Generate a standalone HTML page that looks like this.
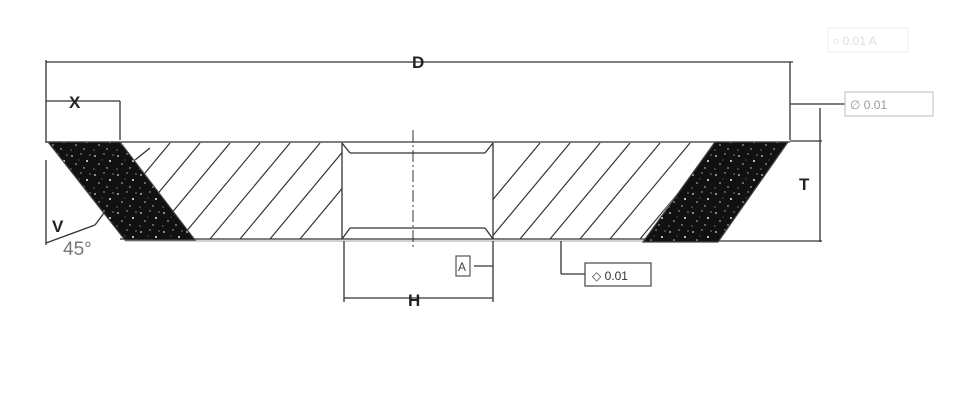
<!DOCTYPE html>
<html><head><meta charset="utf-8"><style>
html,body{margin:0;padding:0;background:#fff;}
svg{display:block;font-family:"Liberation Sans",sans-serif;}
</style></head><body>
<svg width="955" height="400" viewBox="0 0 955 400" xmlns="http://www.w3.org/2000/svg">
<defs>
<pattern id="sp" width="23" height="19" patternUnits="userSpaceOnUse">
<rect width="23" height="19" fill="#111"/>
<circle cx="3" cy="4" r="0.9" fill="#ddd"/><circle cx="12" cy="2" r="0.7" fill="#bbb"/>
<circle cx="18" cy="9" r="1" fill="#eee"/><circle cx="7" cy="12" r="0.8" fill="#ccc"/>
<circle cx="15" cy="16" r="0.7" fill="#ddd"/><circle cx="2" cy="17" r="0.6" fill="#aaa"/>
<circle cx="21" cy="3" r="0.6" fill="#ccc"/><circle cx="10" cy="8" r="0.5" fill="#999"/>
</pattern>
<clipPath id="hl"><polygon points="120,143 342,143 342,239 195,239"/></clipPath>
<clipPath id="hr"><polygon points="493,143 715,143 643,239 493,239"/></clipPath>
</defs>
<g stroke="#333" stroke-width="1.3" fill="none">
<!-- D dimension -->
<line x1="46" y1="62" x2="793" y2="62"/>
<line x1="46" y1="60" x2="46" y2="143"/>
<line x1="790" y1="62" x2="790" y2="140"/>
<!-- X dim -->
<line x1="46" y1="101" x2="120" y2="101"/>
<line x1="120" y1="101" x2="120" y2="140"/>
<!-- outline -->
<line x1="46" y1="142" x2="790" y2="142"/>
<line x1="120" y1="239" x2="720" y2="239"/>
<line x1="125" y1="241" x2="720" y2="241" stroke="#888" stroke-width="0.8"/>
<!-- bore -->
<line x1="342" y1="143" x2="342" y2="239"/>
<line x1="493" y1="143" x2="493" y2="239"/>
<line x1="350" y1="153" x2="485" y2="153"/>
<line x1="350" y1="228" x2="485" y2="228"/>
<line x1="342" y1="143" x2="350" y2="153"/><line x1="493" y1="143" x2="485" y2="153"/>
<line x1="342" y1="239" x2="350" y2="228"/><line x1="493" y1="239" x2="485" y2="228"/>
<line x1="413" y1="130" x2="413" y2="250" stroke-dasharray="12,3,2,3" stroke-width="1"/>
<!-- H dim -->
<line x1="344" y1="241" x2="344" y2="302"/>
<line x1="493" y1="241" x2="493" y2="302"/>
<line x1="344" y1="298" x2="493" y2="298"/>
<!-- T dim -->
<line x1="790" y1="104" x2="845" y2="104"/>
<line x1="820" y1="108" x2="820" y2="242"/>
<line x1="790" y1="141" x2="822" y2="141"/>
<line x1="718" y1="241" x2="822" y2="241"/>
<!-- V / 45 lines -->
<line x1="46" y1="160" x2="46" y2="245"/>
<line x1="46" y1="243" x2="95" y2="225"/>
<line x1="95" y1="225" x2="110" y2="205"/>
<line x1="135" y1="160" x2="150" y2="148"/>
<!-- leaders -->
<line x1="561" y1="241" x2="561" y2="274"/><line x1="561" y1="274" x2="585" y2="274"/>
<line x1="474" y1="266" x2="493" y2="266"/>
</g>
<!-- hatching -->
<g stroke="#333" stroke-width="1.2" clip-path="url(#hl)">
<line x1="150" y1="239" x2="230" y2="143"/><line x1="180" y1="239" x2="260" y2="143"/>
<line x1="210" y1="239" x2="290" y2="143"/><line x1="240" y1="239" x2="320" y2="143"/>
<line x1="270" y1="239" x2="350" y2="143"/><line x1="300" y1="239" x2="380" y2="143"/>
<line x1="120" y1="239" x2="200" y2="143"/><line x1="90" y1="239" x2="170" y2="143"/>
</g>
<g stroke="#333" stroke-width="1.2" clip-path="url(#hr)">
<line x1="460" y1="239" x2="540" y2="143"/><line x1="490" y1="239" x2="570" y2="143"/>
<line x1="520" y1="239" x2="600" y2="143"/><line x1="550" y1="239" x2="630" y2="143"/>
<line x1="580" y1="239" x2="660" y2="143"/><line x1="610" y1="239" x2="690" y2="143"/>
<line x1="640" y1="239" x2="720" y2="143"/>
</g>
<!-- abrasive -->
<polygon points="48,142 120,142 195,240 125,240" fill="url(#sp)" stroke="#444" stroke-width="1.2"/>
<polygon points="715,142 788,142 718,242 643,242" fill="url(#sp)" stroke="#444" stroke-width="1.2"/>
<!-- labels -->
<g fill="#222" font-weight="bold">
<text x="412" y="68" font-size="17">D</text>
<text x="69" y="108" font-size="17">X</text>
<text x="408" y="306" font-size="17">H</text>
<text x="799" y="190" font-size="17">T</text>
<text x="52" y="232" font-size="17">V</text>
</g>
<text x="63" y="255" font-size="19" fill="#777">45°</text>
<!-- boxes -->
<rect x="585" y="263" width="66" height="23" fill="none" stroke="#444" stroke-width="1.2"/>
<text x="592" y="280" font-size="12" fill="#333">◇ 0.01</text>
<rect x="456" y="256" width="14" height="20" fill="none" stroke="#555" stroke-width="1.2"/>
<text x="458" y="271" font-size="12" fill="#444">A</text>
<rect x="845" y="92" width="88" height="24" fill="none" stroke="#bbb" stroke-width="1"/>
<text x="850" y="109" font-size="12" fill="#999">∅ 0.01</text>
<rect x="828" y="28" width="80" height="24" fill="none" stroke="#eee" stroke-width="1"/>
<text x="832" y="45" font-size="12" fill="#ddd">○ 0.01 A</text>
</svg>
</body></html>
